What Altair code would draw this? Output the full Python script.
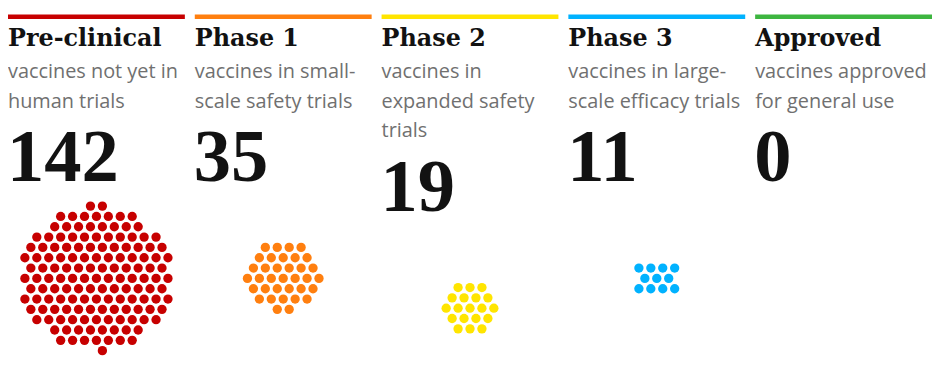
import math
import altair as alt
import pandas as pd

# ---- data -------------------------------------------------------------
stages = ["Pre-clinical", "Phase 1", "Phase 2", "Phase 3", "Approved"]
subtitles = [
    ["vaccines not yet in", "human trials"],
    ["vaccines in small-", "scale safety trials"],
    ["vaccines in", "expanded safety", "trials"],
    ["vaccines in large-", "scale efficacy trials"],
    ["vaccines approved", "for general use"],
]
counts = [142, 35, 19, 11, 0]
colors = ["#c70000", "#ff7f0f", "#ffe500", "#00b2ff", "#3db540"]

# ---- layout (page-pixel coordinate system) ----------------------------
X0, COL_STEP, BAR_W = 5, 188, 178
BAR_Y0, BAR_Y1 = 13.5, 18
TITLE_Y = 45
SUB_Y0, LINE_H = 77, 30
NUM_Y_BASE = 181
DOT_CY_BASE = 279
SPACING = 12.0
DOT_SIZE = 88


def hex_cluster(n, s):
    pts = []
    r = 20
    for i in range(-r, r + 1):
        for j in range(-r, r + 1):
            x = s * (i + j / 2.0)
            y = s * (j * math.sqrt(3) / 2.0)
            d = math.hypot(x * 0.97, y)
            a = math.atan2(y, x)
            pts.append((round(d, 4), a, x, y))
    pts.sort()
    return [(p[2], p[3]) for p in pts[:n]]


bars, titles, subs, nums, dots = [], [], [], [], []
for k, st in enumerate(stages):
    left = X0 + k * COL_STEP
    extra = len(subtitles[k]) - 2
    bars.append({"stage": st, "x": left, "x2": left + BAR_W, "y": BAR_Y0, "y2": BAR_Y1})
    titles.append({"stage": st, "x": left, "y": TITLE_Y, "text": st})
    for li, line in enumerate(subtitles[k]):
        subs.append({"stage": st, "x": left, "y": SUB_Y0 + li * LINE_H, "text": line})
    nums.append({"stage": st, "x": left, "y": NUM_Y_BASE + extra * LINE_H, "text": str(counts[k])})
    cx = left + BAR_W / 2.0
    cy = DOT_CY_BASE + extra * LINE_H
    for (dx, dy) in hex_cluster(counts[k], SPACING):
        dots.append({"stage": st, "x": cx + dx, "y": cy + dy})

W, H = 930, 353
xs = alt.Scale(domain=[X0, X0 + W], range=[0, W], nice=False, zero=False)
ys = alt.Scale(domain=[8, 8 + H], range=[0, H], nice=False, zero=False)
color_scale = alt.Scale(domain=stages, range=colors)

X = lambda f="x": alt.X(f"{f}:Q", scale=xs, axis=None)
Y = lambda f="y": alt.Y(f"{f}:Q", scale=ys, axis=None)

bar_layer = alt.Chart(pd.DataFrame(bars)).mark_rect().encode(
    x=X(), x2="x2:Q", y=Y(), y2="y2:Q",
    color=alt.Color("stage:N", scale=color_scale, legend=None),
)

title_layer = alt.Chart(pd.DataFrame(titles)).mark_text(
    align="left", baseline="alphabetic", font="DejaVu Serif", fontWeight="bold",
    fontSize=24, color="#121212",
).encode(x=X(), y=Y(), text="text:N")

sub_layer = alt.Chart(pd.DataFrame(subs)).mark_text(
    align="left", baseline="alphabetic", font="Open Sans", fontSize=20,
    color="#707070",
).encode(x=X(), y=Y(), text="text:N")

num_layer = alt.Chart(pd.DataFrame(nums)).mark_text(
    align="left", baseline="alphabetic", font="Liberation Serif", fontWeight="bold",
    fontSize=75, color="#121212", dx=-1,
).encode(x=X(), y=Y(), text="text:N")

dot_layer = alt.Chart(pd.DataFrame(dots)).mark_circle(opacity=1, size=DOT_SIZE).encode(
    x=X(), y=Y(),
    color=alt.Color("stage:N", scale=color_scale, legend=None),
)

chart = alt.layer(bar_layer, title_layer, sub_layer, num_layer, dot_layer).properties(
    width=W, height=H, padding=0, autosize=alt.AutoSizeParams(type="none"),
    background="white",
).configure_view(stroke=None)

chart.save("out.html", embed_options={"renderer": "svg", "actions": False})
